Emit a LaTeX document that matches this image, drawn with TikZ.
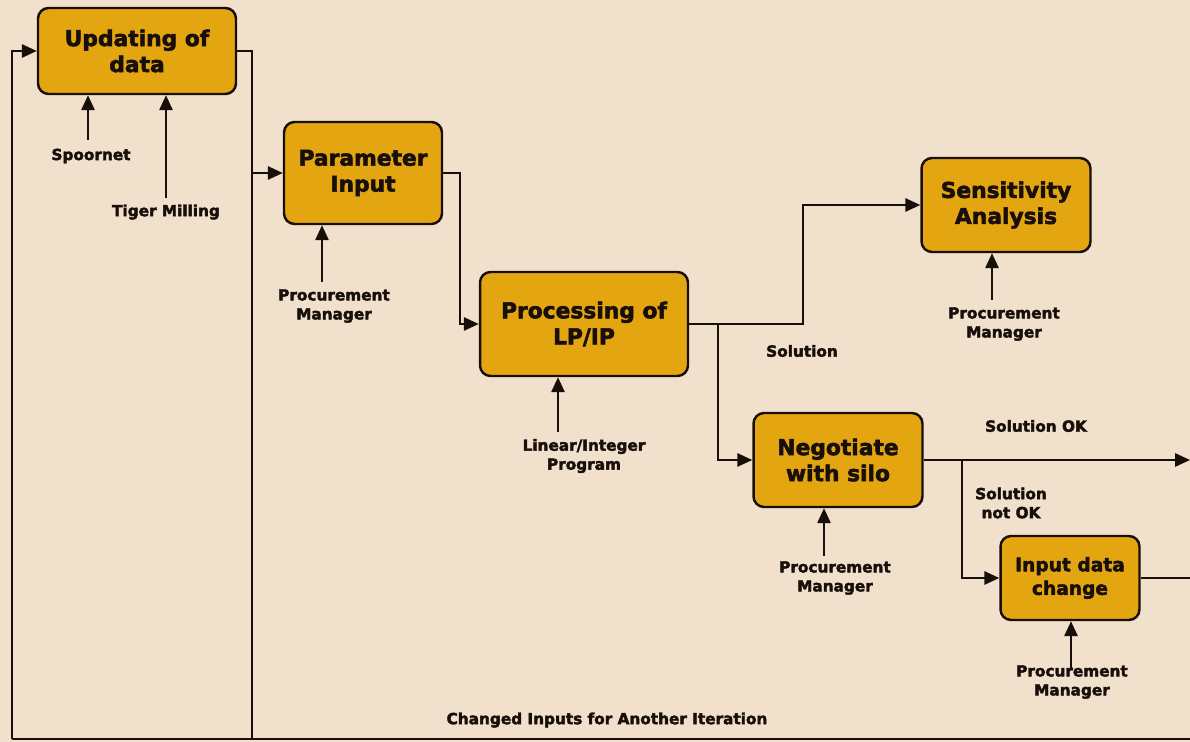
\documentclass[tikz,border=0pt]{standalone}
\usepackage{fontspec}
\setmainfont{DejaVu Sans}
\newfontfamily\heavyfont[FakeBold=2.5]{DejaVu Sans Bold}
\usetikzlibrary{arrows.meta}
\definecolor{paper}{RGB}{241,224,203}
\definecolor{gold}{RGB}{228,166,16}
\definecolor{ink}{RGB}{25,15,10}
\tikzset{
  procbox/.style={draw=ink, line width=1.4pt, fill=gold, rounded corners=6pt,
    align=center, font=\heavyfont\fontsize{12.4}{14.8}\selectfont, text=ink,
    inner sep=0pt},
  lbl/.style={align=center, font=\heavyfont\fontsize{8.7}{10.8}\selectfont,
    text=ink, inner sep=0pt},
  wire/.style={draw=ink, line width=1.3pt},
  arr/.style={wire, -{Triangle[length=8.5pt,width=7.5pt]}}
}
\begin{document}
\begin{tikzpicture}[x=0.02cm, y=-0.02cm]
  \fill[paper] (0,0) rectangle (1190,742);
  \useasboundingbox (0,0) rectangle (1190,742);

  % process boxes
  \node[procbox, minimum width=3.96cm, minimum height=1.72cm] (upd) at (137,51) {Updating of\\data};
  \node[procbox, minimum width=3.16cm, minimum height=2.04cm] (par) at (363,173) {Parameter\\Input};
  \node[procbox, minimum width=4.16cm, minimum height=2.08cm] (proc) at (584,324) {Processing of\\LP/IP};
  \node[procbox, minimum width=3.38cm, minimum height=1.88cm] (sens) at (1006,205) {Sensitivity\\Analysis};
  \node[procbox, minimum width=3.38cm, minimum height=1.88cm] (neg) at (838,460) {Negotiate\\with silo};
  \node[procbox, minimum width=2.78cm, minimum height=1.68cm,
        font=\heavyfont\fontsize{10.6}{13.4}\selectfont] (inp) at (1070,578) {Input data\\change};

  % actor and flow labels
  \node[lbl] (spoor) at (91,156) {Spoornet};
  \node[lbl] (tiger) at (166,212) {Tiger Milling};
  \node[lbl] (pmpar) at (334,306) {Procurement\\Manager};
  \node[lbl] (linp) at (584,456) {Linear/Integer\\Program};
  \node[lbl] (pmsens) at (1004,324) {Procurement\\Manager};
  \node[lbl] (sol) at (802,351) {Solution};
  \node[lbl] (solok) at (1036,426) {Solution OK};
  \node[lbl] (solnok) at (1011,503) {Solution\\not OK};
  \node[lbl] (pmneg) at (835,578) {Procurement\\Manager};
  \node[lbl] (pminp) at (1072,682) {Procurement\\Manager};
  \node[lbl] (chg) at (607,720) {Changed Inputs for Another Iteration};

  % inputs from actors
  \coordinate (a1) at (88,140);
  \coordinate (a2) at (166,198);
  \coordinate (a3) at (322,282);
  \coordinate (a4) at (558,432);
  \coordinate (a5) at (992,300);
  \coordinate (a6) at (824,556);
  \coordinate (a7) at (1071,668);
  \draw[arr] (a1) -- (a1 |- upd.south);
  \draw[arr] (a2) -- (a2 |- upd.south);
  \draw[arr] (a3) -- (a3 |- par.south);
  \draw[arr] (a4) -- (a4 |- proc.south);
  \draw[arr] (a5) -- (a5 |- sens.south);
  \draw[arr] (a6) -- (a6 |- neg.south);
  \draw[arr] (a7) -- (a7 |- inp.south);

  % routing points
  \coordinate (bl) at (12,739);
  \coordinate (br) at (1190,739);
  \coordinate (bj) at (252,739);
  \coordinate (k1) at (460,0);
  \coordinate (k2) at (803,0);
  \coordinate (k3) at (718,0);
  \coordinate (k4) at (962,0);
  \coordinate (redge) at (1190,0);

  % main flow
  \draw[arr] (bl) |- (upd.west);
  \draw[wire] (upd.east) -| (bj);
  \draw[arr] (bj |- par.west) -- (par.west);
  \draw[arr] (par.east) -- (par.east -| k1) -- (k1 |- proc.west) -- (proc.west);
  \draw[arr] (proc.east) -- (proc.east -| k2) -- (k2 |- sens.west) -- (sens.west);
  \draw[arr] (proc.east -| k3) -- (k3 |- neg.west) -- (neg.west);
  \draw[arr] (neg.east) -- (neg.east -| redge);
  \draw[arr] (neg.east -| k4) -- (k4 |- inp.west) -- (inp.west);
  \draw[wire] (inp.east) -- (inp.east -| redge);
  \draw[wire] (bl) -- (br);
\end{tikzpicture}
\end{document}
